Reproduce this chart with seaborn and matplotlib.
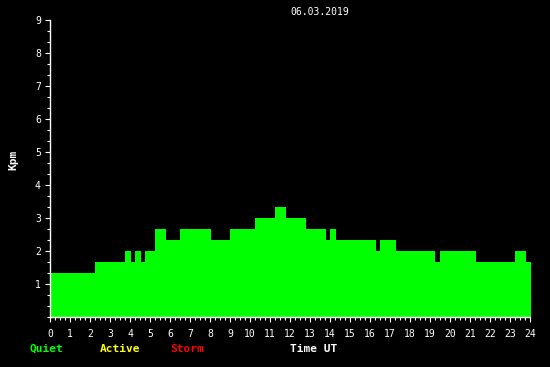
import matplotlib
matplotlib.use("Agg")
import matplotlib.pyplot as plt
from matplotlib.ticker import MultipleLocator, FixedLocator
import numpy as np
import seaborn as sns

# Data: interval edges (hours UT) and Kpm value in each interval
edges = [0.0, 2.25, 3.75, 4.05, 4.25, 4.55, 4.75, 5.25, 5.8, 6.5, 8.05, 9.0,
         10.25, 11.25, 11.8, 12.8, 13.8, 14.0, 14.3, 16.3, 16.5, 17.3, 19.25,
         19.5, 21.3, 23.25, 23.8, 24.05]
kpm = [1.333, 1.667, 2.0, 1.667, 2.0, 1.667, 2.0, 2.667, 2.333, 2.667, 2.333,
       2.667, 3.0, 3.333, 3.0, 2.667, 2.333, 2.667, 2.333, 2.0, 2.333, 2.0,
       1.667, 2.0, 1.667, 2.0, 1.667]
x_ticks = list(range(0, 25))
y_ticks = list(range(1, 10))
title = "06.03.2019"

sns.set_style("dark")
plt.rcParams["font.family"] = ["DejaVu Sans Mono", "DejaVu Sans"]

fig = plt.figure(figsize=(5.5, 3.67), dpi=100, facecolor="black")
W, H = 550, 367
ax = fig.add_axes([50 / W, (H - 317) / H, 480 / W, 297 / H])
ax.set_facecolor("black")

mids = [(edges[i] + edges[i + 1]) / 2 for i in range(len(kpm))]
sns.histplot(x=mids, weights=kpm, bins=edges, stat="count", color="#00ff00",
             alpha=1, linewidth=0, edgecolor="none", ax=ax)
for p in ax.patches:
    p.set_clip_on(False)

ax.set_xlim(0, 24)
ax.set_ylim(0, 9)
ax.grid(False)
ax.set_xlabel("")
ax.set_ylabel("")

ax.xaxis.set_major_locator(FixedLocator(x_ticks))
ax.xaxis.set_minor_locator(MultipleLocator(0.25))
ax.yaxis.set_major_locator(FixedLocator(y_ticks))
ax.yaxis.set_minor_locator(MultipleLocator(1 / 3))
ax.set_xticklabels([str(t) for t in x_ticks])
ax.set_yticklabels([str(t) for t in y_ticks])

for s in ["top", "right"]:
    ax.spines[s].set_visible(False)
for s in ["left", "bottom"]:
    ax.spines[s].set_color("white")
    ax.spines[s].set_linewidth(1)
    ax.spines[s].set_visible(True)

ax.tick_params(axis="both", which="major", colors="white", length=3.6, width=0.8,
               labelsize=7, direction="out")
ax.tick_params(axis="both", which="minor", colors="white", length=2.2, width=0.8,
               direction="out")
ax.tick_params(axis="x", which="major", pad=5, bottom=True)
ax.tick_params(axis="y", which="major", pad=3, left=True)
ax.tick_params(axis="x", which="minor", bottom=True)
ax.tick_params(axis="y", which="minor", left=True)

fig.text(320 / W, 1 - 12 / H, title, color="white", fontsize=7,
         ha="center", va="center")
fig.text(13 / W, 1 - 160 / H, "Kpm", color="white", fontsize=8,
         fontweight="bold", rotation=90, ha="center", va="center")

yl = 1 - 349 / H
fig.text(30 / W, yl, "Quiet", color="#00ff00", fontsize=8, fontweight="bold",
         ha="left", va="center")
fig.text(100 / W, yl, "Active", color="#ffff00", fontsize=8, fontweight="bold",
         ha="left", va="center")
fig.text(170 / W, yl, "Storm", color="#ff0000", fontsize=8, fontweight="bold",
         ha="left", va="center")
fig.text(290 / W, yl, "Time UT", color="white", fontsize=8, fontweight="bold",
         ha="left", va="center")

fig.savefig("out.png", dpi=100, facecolor="black")
